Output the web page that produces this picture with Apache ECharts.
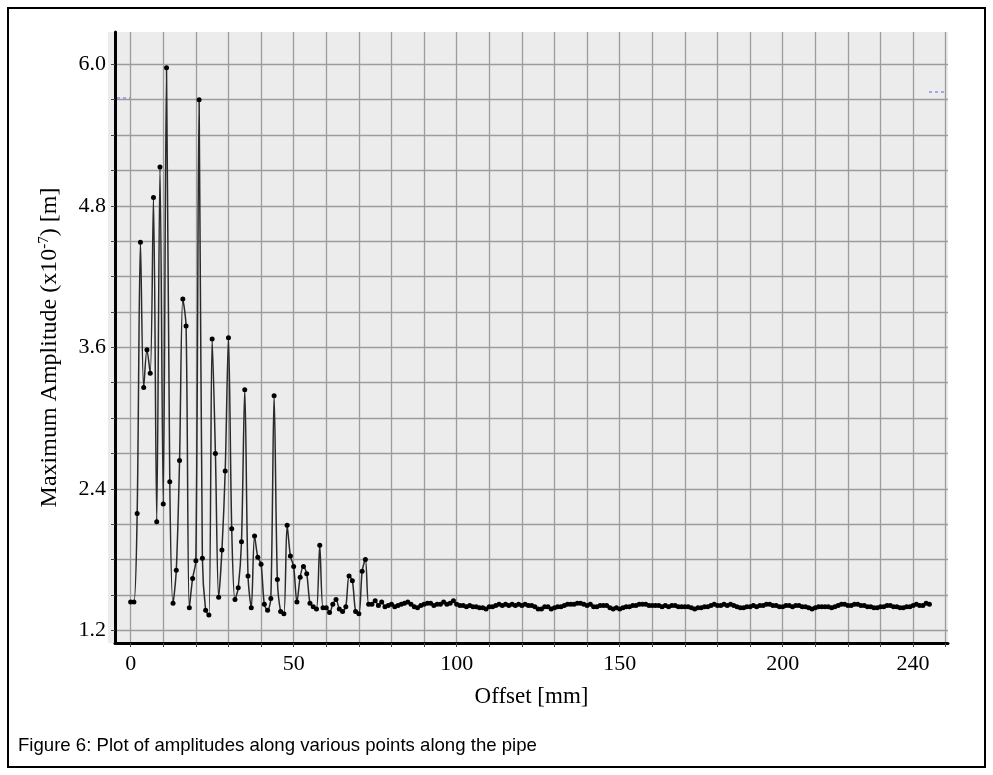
<!DOCTYPE html>
<html>
<head>
<meta charset="utf-8">
<script src="https://cdn.jsdelivr.net/npm/echarts@6/dist/echarts.min.js"></script>
<style>
html,body{margin:0;padding:0;background:#ffffff;}
#chart{width:993px;height:775px;}
</style>
</head>
<body>
<div id="chart"></div>
<script>
// Offset starts at 0 mm, one sample per mm
const offsetStart = 0;
const offsetStep = 1;

// Maximum amplitude (x10^-7 m) at each offset
const amplitude = [
  1.44, 1.44, 2.19, 4.49, 3.26, 3.58, 3.38, 4.87, 2.12, 5.13,
  2.27, 5.97, 2.46, 1.43, 1.71, 2.64, 4.01, 3.78, 1.39, 1.64,
  1.79, 5.70, 1.81, 1.37, 1.33, 3.67, 2.70, 1.48, 1.88, 2.55,
  3.68, 2.06, 1.46, 1.56, 1.95, 3.24, 1.66, 1.39, 2.00, 1.82,
  1.76, 1.42, 1.37, 1.47, 3.19, 1.63, 1.36, 1.34, 2.09, 1.83,
  1.74, 1.44, 1.65, 1.74, 1.68, 1.43, 1.40, 1.38, 1.92, 1.39,
  1.39, 1.35, 1.42, 1.46, 1.38, 1.36, 1.40, 1.66, 1.62, 1.36,
  1.34, 1.70, 1.80, 1.42, 1.42, 1.45, 1.41, 1.44, 1.40, 1.41,
  1.42, 1.40, 1.41, 1.42, 1.43, 1.44, 1.42, 1.40, 1.39, 1.41,
  1.42, 1.43, 1.43, 1.41, 1.42, 1.42, 1.44, 1.42, 1.43, 1.45,
  1.42, 1.41, 1.41, 1.40, 1.41, 1.40, 1.40, 1.39, 1.39, 1.38,
  1.40, 1.40, 1.41, 1.42, 1.41, 1.42, 1.41, 1.42, 1.41, 1.42,
  1.41, 1.42, 1.41, 1.41, 1.40, 1.38, 1.38, 1.40, 1.40, 1.38,
  1.39, 1.40, 1.40, 1.41, 1.42, 1.42, 1.42, 1.43, 1.43, 1.42,
  1.41, 1.42, 1.40, 1.40, 1.41, 1.41, 1.41, 1.39, 1.38, 1.39,
  1.38, 1.39, 1.40, 1.40, 1.41, 1.41, 1.42, 1.42, 1.42, 1.41,
  1.41, 1.41, 1.41, 1.40, 1.41, 1.40, 1.41, 1.41, 1.40, 1.40,
  1.40, 1.40, 1.39, 1.38, 1.39, 1.39, 1.40, 1.40, 1.41, 1.42,
  1.41, 1.41, 1.42, 1.41, 1.42, 1.41, 1.40, 1.39, 1.39, 1.40,
  1.40, 1.41, 1.40, 1.41, 1.41, 1.42, 1.42, 1.41, 1.41, 1.40,
  1.40, 1.41, 1.41, 1.40, 1.41, 1.41, 1.40, 1.40, 1.39, 1.38,
  1.39, 1.40, 1.40, 1.40, 1.40, 1.39, 1.40, 1.41, 1.42, 1.42,
  1.41, 1.41, 1.42, 1.42, 1.41, 1.41, 1.40, 1.40, 1.39, 1.39,
  1.40, 1.40, 1.41, 1.41, 1.40, 1.40, 1.39, 1.39, 1.40, 1.40,
  1.41, 1.42, 1.41, 1.41, 1.43, 1.42
];

// Axis ticks / labels
const xTickValues = [0, 10, 20, 30, 40, 50, 60, 70, 80, 90, 100, 110, 120, 130, 140, 150, 160, 170, 180, 190, 200, 210, 220, 230, 240, 250];
const xLabelValues = [0, 50, 100, 150, 200, 240];
const yTickValues = [1.2, 1.5, 1.8, 2.1, 2.4, 2.7, 3.0, 3.3, 3.6, 3.9, 4.2, 4.5, 4.8, 5.1, 5.4, 5.7, 6.0];
const yLabelValues = [1.2, 2.4, 3.6, 4.8, 6.0];

const xAxisTitle = 'Offset [mm]';
const yAxisTitleMain = 'Maximum Amplitude (x10';
const yAxisTitleSup = '-7';
const yAxisTitleEnd = ') [m]';
const caption = 'Figure 6: Plot of amplitudes along various points along the pipe';

const seriesData = amplitude.map((v, i) => [offsetStart + i * offsetStep, v]);

const serif = '"Liberation Serif", "Times New Roman", serif';
const sans = '"Liberation Sans", Arial, sans-serif';
const gridColor = '#9c9c9c';

const chart = echarts.init(document.getElementById('chart'), null, {renderer: 'canvas'});
chart.setOption({
  animation: false,
  backgroundColor: '#ffffff',
  grid: {
    left: 115, right: 45, top: 32, bottom: 132,
    show: true, backgroundColor: '#ececec', borderWidth: 0
  },
  xAxis: {
    type: 'value',
    min: -4.8, max: 250.7,
    name: xAxisTitle,
    nameLocation: 'middle',
    nameGap: 42,
    nameTextStyle: {fontFamily: serif, fontSize: 23, color: '#000'},
    axisLine: {show: true, onZero: false, lineStyle: {color: '#000', width: 3}},
    axisTick: {show: true, customValues: xTickValues, length: 4, lineStyle: {color: '#444', width: 1}},
    axisLabel: {
      customValues: xLabelValues, margin: 10,
      fontFamily: serif, fontSize: 22, color: '#000'
    },
    splitLine: {show: true, lineStyle: {color: gridColor, width: 1.3}}
  },
  yAxis: {
    type: 'value',
    min: 1.092, max: 6.274,
    name: '{t|' + yAxisTitleMain + '}{s|' + yAxisTitleSup + '}{t|' + yAxisTitleEnd + '}',
    nameLocation: 'middle',
    nameRotate: 90,
    nameGap: 53,
    nameTextStyle: {
      fontFamily: serif, fontSize: 24, color: '#000',
      padding: [0, 20, 0, 0],
      rich: {
        t: {fontFamily: serif, fontSize: 24, color: '#000'},
        s: {fontFamily: serif, fontSize: 15, color: '#000', verticalAlign: 'top', padding: [0, 0, 10, 0]}
      }
    },
    axisLine: {show: true, onZero: false, lineStyle: {color: '#000', width: 3}},
    axisTick: {show: true, customValues: yTickValues, length: 4, lineStyle: {color: '#444', width: 1}},
    axisLabel: {
      customValues: yLabelValues, margin: 9,
      fontFamily: serif, fontSize: 22, color: '#000',
      formatter: v => Number(v).toFixed(1)
    },
    splitLine: {show: true, lineStyle: {color: gridColor, width: 1.3}}
  },
  series: [{
    type: 'line',
    data: seriesData,
    smooth: 0.3,
    showAllSymbol: true,
    symbol: 'circle',
    symbolSize: 5,
    itemStyle: {color: '#000'},
    lineStyle: {color: '#2a2a2a', width: 1.5},
    z: 5
  }],
  graphic: [
    {type: 'rect', z: -10, shape: {x: 108, y: 32, width: 8, height: 611}, style: {fill: '#ececec'}},
    {type: 'rect', shape: {x: 8, y: 8, width: 977, height: 759}, style: {fill: null, stroke: '#000', lineWidth: 2}},
    {type: 'line', shape: {x1: 117, y1: 98, x2: 130, y2: 98}, style: {stroke: '#8f8fef', lineWidth: 1.5, lineDash: [3, 3]}},
    {type: 'line', shape: {x1: 929, y1: 92, x2: 946, y2: 92}, style: {stroke: '#8f8fef', lineWidth: 1.5, lineDash: [3, 3]}},
    {type: 'text', left: 18, top: 736, style: {text: caption, font: '18.6px ' + sans, fill: '#000'}}
  ]
});
</script>
</body>
</html>
